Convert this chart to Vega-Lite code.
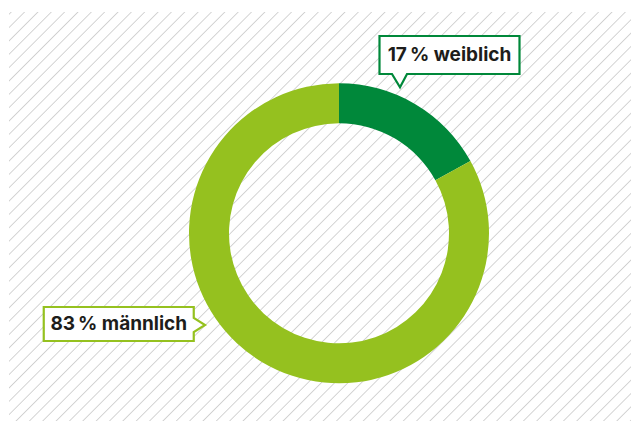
{
  "$schema": "https://vega.github.io/schema/vega-lite/v6.json",
  "width": 622,
  "height": 409,
  "autosize": {"type": "none"},
  "padding": {"left": 9, "top": 12, "right": 0, "bottom": 0},
  "background": "#ffffff",
  "view": {
    "stroke": null,
    "fill": {
      "gradient": "linear", "x1": 0, "y1": 0, "x2": 1.1987, "y2": 0.7883,
      "stops": [
        {"offset":0.0009,"color":"#fff"},{"offset":0.0021,"color":"#d0d0d0"},{"offset":0.0033,"color":"#fff"},
        {"offset":0.0134,"color":"#fff"},{"offset":0.0146,"color":"#d0d0d0"},{"offset":0.0158,"color":"#fff"},
        {"offset":0.0259,"color":"#fff"},{"offset":0.0271,"color":"#d0d0d0"},{"offset":0.0283,"color":"#fff"},
        {"offset":0.0384,"color":"#fff"},{"offset":0.0396,"color":"#d0d0d0"},{"offset":0.0408,"color":"#fff"},
        {"offset":0.0509,"color":"#fff"},{"offset":0.0521,"color":"#d0d0d0"},{"offset":0.0533,"color":"#fff"},
        {"offset":0.0634,"color":"#fff"},{"offset":0.0646,"color":"#d0d0d0"},{"offset":0.0658,"color":"#fff"},
        {"offset":0.0759,"color":"#fff"},{"offset":0.0771,"color":"#d0d0d0"},{"offset":0.0783,"color":"#fff"},
        {"offset":0.0884,"color":"#fff"},{"offset":0.0896,"color":"#d0d0d0"},{"offset":0.0908,"color":"#fff"},
        {"offset":0.1009,"color":"#fff"},{"offset":0.1021,"color":"#d0d0d0"},{"offset":0.1033,"color":"#fff"},
        {"offset":0.1134,"color":"#fff"},{"offset":0.1146,"color":"#d0d0d0"},{"offset":0.1158,"color":"#fff"},
        {"offset":0.1259,"color":"#fff"},{"offset":0.1271,"color":"#d0d0d0"},{"offset":0.1283,"color":"#fff"},
        {"offset":0.1384,"color":"#fff"},{"offset":0.1396,"color":"#d0d0d0"},{"offset":0.1408,"color":"#fff"},
        {"offset":0.1509,"color":"#fff"},{"offset":0.1521,"color":"#d0d0d0"},{"offset":0.1533,"color":"#fff"},
        {"offset":0.1634,"color":"#fff"},{"offset":0.1646,"color":"#d0d0d0"},{"offset":0.1658,"color":"#fff"},
        {"offset":0.1759,"color":"#fff"},{"offset":0.1771,"color":"#d0d0d0"},{"offset":0.1783,"color":"#fff"},
        {"offset":0.1884,"color":"#fff"},{"offset":0.1896,"color":"#d0d0d0"},{"offset":0.1908,"color":"#fff"},
        {"offset":0.2009,"color":"#fff"},{"offset":0.2021,"color":"#d0d0d0"},{"offset":0.2033,"color":"#fff"},
        {"offset":0.2134,"color":"#fff"},{"offset":0.2146,"color":"#d0d0d0"},{"offset":0.2158,"color":"#fff"},
        {"offset":0.2259,"color":"#fff"},{"offset":0.2271,"color":"#d0d0d0"},{"offset":0.2283,"color":"#fff"},
        {"offset":0.2384,"color":"#fff"},{"offset":0.2396,"color":"#d0d0d0"},{"offset":0.2408,"color":"#fff"},
        {"offset":0.2509,"color":"#fff"},{"offset":0.2521,"color":"#d0d0d0"},{"offset":0.2533,"color":"#fff"},
        {"offset":0.2634,"color":"#fff"},{"offset":0.2646,"color":"#d0d0d0"},{"offset":0.2658,"color":"#fff"},
        {"offset":0.2759,"color":"#fff"},{"offset":0.2771,"color":"#d0d0d0"},{"offset":0.2783,"color":"#fff"},
        {"offset":0.2884,"color":"#fff"},{"offset":0.2896,"color":"#d0d0d0"},{"offset":0.2908,"color":"#fff"},
        {"offset":0.3009,"color":"#fff"},{"offset":0.3021,"color":"#d0d0d0"},{"offset":0.3033,"color":"#fff"},
        {"offset":0.3134,"color":"#fff"},{"offset":0.3146,"color":"#d0d0d0"},{"offset":0.3158,"color":"#fff"},
        {"offset":0.3259,"color":"#fff"},{"offset":0.3271,"color":"#d0d0d0"},{"offset":0.3283,"color":"#fff"},
        {"offset":0.3384,"color":"#fff"},{"offset":0.3396,"color":"#d0d0d0"},{"offset":0.3408,"color":"#fff"},
        {"offset":0.3509,"color":"#fff"},{"offset":0.3521,"color":"#d0d0d0"},{"offset":0.3533,"color":"#fff"},
        {"offset":0.3634,"color":"#fff"},{"offset":0.3646,"color":"#d0d0d0"},{"offset":0.3658,"color":"#fff"},
        {"offset":0.3759,"color":"#fff"},{"offset":0.3771,"color":"#d0d0d0"},{"offset":0.3783,"color":"#fff"},
        {"offset":0.3884,"color":"#fff"},{"offset":0.3896,"color":"#d0d0d0"},{"offset":0.3908,"color":"#fff"},
        {"offset":0.4009,"color":"#fff"},{"offset":0.4021,"color":"#d0d0d0"},{"offset":0.4033,"color":"#fff"},
        {"offset":0.4134,"color":"#fff"},{"offset":0.4146,"color":"#d0d0d0"},{"offset":0.4158,"color":"#fff"},
        {"offset":0.4259,"color":"#fff"},{"offset":0.4271,"color":"#d0d0d0"},{"offset":0.4283,"color":"#fff"},
        {"offset":0.4384,"color":"#fff"},{"offset":0.4396,"color":"#d0d0d0"},{"offset":0.4408,"color":"#fff"},
        {"offset":0.4509,"color":"#fff"},{"offset":0.4521,"color":"#d0d0d0"},{"offset":0.4533,"color":"#fff"},
        {"offset":0.4634,"color":"#fff"},{"offset":0.4646,"color":"#d0d0d0"},{"offset":0.4658,"color":"#fff"},
        {"offset":0.4759,"color":"#fff"},{"offset":0.4771,"color":"#d0d0d0"},{"offset":0.4783,"color":"#fff"},
        {"offset":0.4884,"color":"#fff"},{"offset":0.4896,"color":"#d0d0d0"},{"offset":0.4908,"color":"#fff"},
        {"offset":0.5009,"color":"#fff"},{"offset":0.5021,"color":"#d0d0d0"},{"offset":0.5033,"color":"#fff"},
        {"offset":0.5134,"color":"#fff"},{"offset":0.5146,"color":"#d0d0d0"},{"offset":0.5158,"color":"#fff"},
        {"offset":0.5259,"color":"#fff"},{"offset":0.5271,"color":"#d0d0d0"},{"offset":0.5283,"color":"#fff"},
        {"offset":0.5384,"color":"#fff"},{"offset":0.5396,"color":"#d0d0d0"},{"offset":0.5408,"color":"#fff"},
        {"offset":0.5509,"color":"#fff"},{"offset":0.5521,"color":"#d0d0d0"},{"offset":0.5533,"color":"#fff"},
        {"offset":0.5634,"color":"#fff"},{"offset":0.5646,"color":"#d0d0d0"},{"offset":0.5658,"color":"#fff"},
        {"offset":0.5759,"color":"#fff"},{"offset":0.5771,"color":"#d0d0d0"},{"offset":0.5783,"color":"#fff"},
        {"offset":0.5884,"color":"#fff"},{"offset":0.5896,"color":"#d0d0d0"},{"offset":0.5908,"color":"#fff"},
        {"offset":0.6009,"color":"#fff"},{"offset":0.6021,"color":"#d0d0d0"},{"offset":0.6033,"color":"#fff"},
        {"offset":0.6134,"color":"#fff"},{"offset":0.6146,"color":"#d0d0d0"},{"offset":0.6158,"color":"#fff"},
        {"offset":0.6259,"color":"#fff"},{"offset":0.6271,"color":"#d0d0d0"},{"offset":0.6283,"color":"#fff"},
        {"offset":0.6384,"color":"#fff"},{"offset":0.6396,"color":"#d0d0d0"},{"offset":0.6408,"color":"#fff"},
        {"offset":0.6509,"color":"#fff"},{"offset":0.6521,"color":"#d0d0d0"},{"offset":0.6533,"color":"#fff"},
        {"offset":0.6634,"color":"#fff"},{"offset":0.6646,"color":"#d0d0d0"},{"offset":0.6658,"color":"#fff"},
        {"offset":0.6759,"color":"#fff"},{"offset":0.6771,"color":"#d0d0d0"},{"offset":0.6783,"color":"#fff"},
        {"offset":0.6884,"color":"#fff"},{"offset":0.6896,"color":"#d0d0d0"},{"offset":0.6908,"color":"#fff"},
        {"offset":0.7009,"color":"#fff"},{"offset":0.7021,"color":"#d0d0d0"},{"offset":0.7033,"color":"#fff"},
        {"offset":0.7134,"color":"#fff"},{"offset":0.7146,"color":"#d0d0d0"},{"offset":0.7158,"color":"#fff"},
        {"offset":0.7259,"color":"#fff"},{"offset":0.7271,"color":"#d0d0d0"},{"offset":0.7283,"color":"#fff"},
        {"offset":0.7384,"color":"#fff"},{"offset":0.7396,"color":"#d0d0d0"},{"offset":0.7408,"color":"#fff"},
        {"offset":0.7509,"color":"#fff"},{"offset":0.7521,"color":"#d0d0d0"},{"offset":0.7533,"color":"#fff"},
        {"offset":0.7634,"color":"#fff"},{"offset":0.7646,"color":"#d0d0d0"},{"offset":0.7658,"color":"#fff"},
        {"offset":0.7759,"color":"#fff"},{"offset":0.7771,"color":"#d0d0d0"},{"offset":0.7783,"color":"#fff"},
        {"offset":0.7884,"color":"#fff"},{"offset":0.7896,"color":"#d0d0d0"},{"offset":0.7908,"color":"#fff"},
        {"offset":0.8009,"color":"#fff"},{"offset":0.8021,"color":"#d0d0d0"},{"offset":0.8033,"color":"#fff"},
        {"offset":0.8134,"color":"#fff"},{"offset":0.8146,"color":"#d0d0d0"},{"offset":0.8158,"color":"#fff"},
        {"offset":0.8259,"color":"#fff"},{"offset":0.8271,"color":"#d0d0d0"},{"offset":0.8283,"color":"#fff"},
        {"offset":0.8384,"color":"#fff"},{"offset":0.8396,"color":"#d0d0d0"},{"offset":0.8408,"color":"#fff"},
        {"offset":0.8509,"color":"#fff"},{"offset":0.8521,"color":"#d0d0d0"},{"offset":0.8533,"color":"#fff"},
        {"offset":0.8634,"color":"#fff"},{"offset":0.8646,"color":"#d0d0d0"},{"offset":0.8658,"color":"#fff"},
        {"offset":0.8759,"color":"#fff"},{"offset":0.8771,"color":"#d0d0d0"},{"offset":0.8783,"color":"#fff"},
        {"offset":0.8884,"color":"#fff"},{"offset":0.8896,"color":"#d0d0d0"},{"offset":0.8908,"color":"#fff"},
        {"offset":0.9009,"color":"#fff"},{"offset":0.9021,"color":"#d0d0d0"},{"offset":0.9033,"color":"#fff"},
        {"offset":0.9134,"color":"#fff"},{"offset":0.9146,"color":"#d0d0d0"},{"offset":0.9158,"color":"#fff"},
        {"offset":0.9259,"color":"#fff"},{"offset":0.9271,"color":"#d0d0d0"},{"offset":0.9283,"color":"#fff"},
        {"offset":0.9384,"color":"#fff"},{"offset":0.9396,"color":"#d0d0d0"},{"offset":0.9408,"color":"#fff"},
        {"offset":0.9509,"color":"#fff"},{"offset":0.9521,"color":"#d0d0d0"},{"offset":0.9533,"color":"#fff"},
        {"offset":0.9634,"color":"#fff"},{"offset":0.9646,"color":"#d0d0d0"},{"offset":0.9658,"color":"#fff"},
        {"offset":0.9759,"color":"#fff"},{"offset":0.9771,"color":"#d0d0d0"},{"offset":0.9783,"color":"#fff"},
        {"offset":0.9884,"color":"#fff"},{"offset":0.9896,"color":"#d0d0d0"},{"offset":0.9908,"color":"#fff"}
      ]
    }
  },
  "data": {
    "values": [
      {"geschlecht": "weiblich", "anteil": 17, "label": "17\u2009% weiblich"},
      {"geschlecht": "männlich", "anteil": 83, "label": "83\u2009% männlich"}
    ]
  },
  "layer": [
    {
      "mark": {
        "type": "arc",
        "outerRadius": 150,
        "innerRadius": 110,
        "x": {"expr": "scale('x', 0)"},
        "y": {"expr": "scale('y', 0)"}
      },
      "encoding": {
        "theta": {"field": "anteil", "type": "quantitative", "stack": true},
        "order": {"field": "anteil", "sort": "ascending"},
        "color": {
          "field": "geschlecht",
          "type": "nominal",
          "scale": {"domain": ["weiblich", "männlich"], "range": ["#00883a", "#95c11f"]},
          "legend": null
        }
      }
    },
    {
      "transform": [{"filter": "datum.geschlecht === 'weiblich'"}],
      "encoding": {
        "x": {"datum": 110.5, "type": "quantitative", "scale": {"domain": [-330, 292], "nice": false, "zero": false}, "axis": null},
        "y": {"datum": -178.3, "type": "quantitative", "scale": {"domain": [-221.3, 187.7], "nice": false, "zero": false, "reverse": true}, "axis": null}
      },
      "layer": [
        {
          "mark": {
            "type": "point",
            "shape": "M-1,-0.2714L1,-0.2714L1,0.2714L-0.6071,0.2714L-0.7071,0.4614L-0.8214,0.2714L-1,0.2714Z",
            "size": 19600,
            "filled": true,
            "fill": "#ffffff",
            "stroke": "#00883a",
            "strokeWidth": 2.2,
            "opacity": 1
          }
        },
        {
          "mark": {"type": "text", "font": "Inter", "fontWeight": 700, "fontSize": 19, "color": "#1d1d1b", "align": "center", "baseline": "middle"},
          "encoding": {"text": {"field": "label"}}
        }
      ]
    },
    {
      "transform": [{"filter": "datum.geschlecht === 'männlich'"}],
      "encoding": {
        "x": {"datum": -220.25, "type": "quantitative"},
        "y": {"datum": 90.7, "type": "quantitative"}
      },
      "layer": [
        {
          "mark": {
            "type": "point",
            "shape": "M-1,-0.2267L1,-0.2267L1,-0.08L1.15,0.0133L1,0.1067L1,0.2267L-1,0.2267Z",
            "size": 22500,
            "filled": true,
            "fill": "#ffffff",
            "stroke": "#95c11f",
            "strokeWidth": 2.2,
            "opacity": 1
          }
        },
        {
          "mark": {"type": "text", "font": "Inter", "fontWeight": 700, "fontSize": 19, "color": "#1d1d1b", "align": "center", "baseline": "middle"},
          "encoding": {"text": {"field": "label"}}
        }
      ]
    }
  ]
}
